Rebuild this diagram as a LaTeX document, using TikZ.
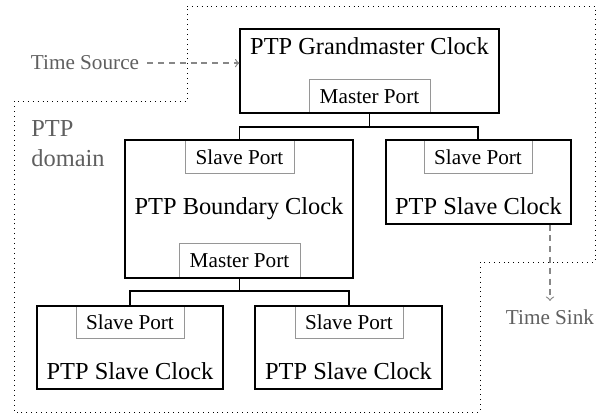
\documentclass[tikz,border=0pt]{standalone}
\usepackage{fontspec}
\setmainfont{Liberation Serif}
\usetikzlibrary{calc}
\definecolor{labelgray}{RGB}{95,95,95}
\definecolor{portgray}{RGB}{150,150,150}
\definecolor{flowgray}{RGB}{135,135,135}
\tikzset{
  clockbox/.style={draw=black, line width=0.6pt, inner sep=0pt, anchor=center},
  portbox/.style={draw=portgray, line width=0.5pt, inner sep=0pt, anchor=center,
                  font=\fontsize{10.6}{12}\selectfont},
  title/.style={inner sep=0pt, anchor=base, font=\fontsize{12.2}{14}\selectfont},
  extlabel/.style={inner sep=0pt, anchor=base, text=labelgray,
                   font=\fontsize{10.6}{12}\selectfont},
  link/.style={draw=black, line width=0.6pt},
  flow/.style={draw=flowgray, line width=0.6pt, dash pattern=on 3pt off 2.4pt, ->},
  domain border/.style={draw=black, line width=0.45pt, dotted},
}
\begin{document}
\begin{tikzpicture}[x=0.5pt, y=-0.5pt]
\useasboundingbox (0,0) rectangle (607,417);

% ports (drawn first so that the clock outlines lie on top of shared edges)
\node[portbox, minimum width=60.5pt, minimum height=16.5pt] (gmp) at (369.5,96.5) {Master Port};
\node[portbox, minimum width=54.5pt, minimum height=17pt] (bcs) at (239.5,157) {Slave Port};
\node[portbox, minimum width=60.5pt, minimum height=17pt] (bcm) at (239.5,261) {Master Port};
\node[portbox, minimum width=54pt, minimum height=17pt] (tss) at (478,157) {Slave Port};
\node[portbox, minimum width=54pt, minimum height=16.5pt] (las) at (130,322.5) {Slave Port};
\node[portbox, minimum width=54pt, minimum height=16.5pt] (ras) at (349,322.5) {Slave Port};

% clocks
\node[clockbox, minimum width=129.5pt, minimum height=42pt] (gm) at (369.5,71) {};
\node[clockbox, minimum width=114pt, minimum height=69pt] (bc) at (239,209) {};
\node[clockbox, minimum width=92.5pt, minimum height=42pt] (tsc) at (478.5,182) {};
\node[clockbox, minimum width=93pt, minimum height=41.5pt] (lsc) at (130,347.5) {};
\node[clockbox, minimum width=93.5pt, minimum height=41.5pt] (rsc) at (348.5,347.5) {};

% clock names
\node[title] (gmt) at (369.5,55) {PTP Grandmaster Clock};
\node[title] (bct) at (239,215) {PTP Boundary Clock};
\node[title] (tst) at (478.5,215) {PTP Slave Clock};
\node[title] (lst) at (130,380) {PTP Slave Clock};
\node[title] (rst) at (348.5,380) {PTP Slave Clock};

% master-to-slave links
\coordinate (j1) at (369.5,127);
\coordinate (j2) at (239.5,291);
\draw[link] (gmp.south) -- (j1);
\draw[link] (bcs.north) |- (j1) -| (tss.north);
\draw[link] (bcm.south) -- (j2);
\draw[link] (las.north) |- (j2) -| (ras.north);

% external time source and sink
\node[extlabel] (src) at (85,70) {Time Source};
\node[extlabel] (sink) at (550,325) {Time Sink};
\draw[flow] (src.east) ++(8,0) coordinate (srcout) -- (srcout -| gm.west);
\draw[flow] (sink.north |- tsc.south) -- ($(sink.north)+(0,-9)$);

% PTP domain boundary
\draw[domain border] (187,6) -- (595,6) -- (595,262) -- (480,262) -- (480,412)
  -- (14,412) -- (14,101) -- (187,101) -- cycle;
\node[inner sep=0pt, anchor=base west, text=labelgray, align=left,
      font=\fontsize{12.2}{15}\selectfont] (dom) at (31,167) {PTP\\domain};
\end{tikzpicture}
\end{document}
